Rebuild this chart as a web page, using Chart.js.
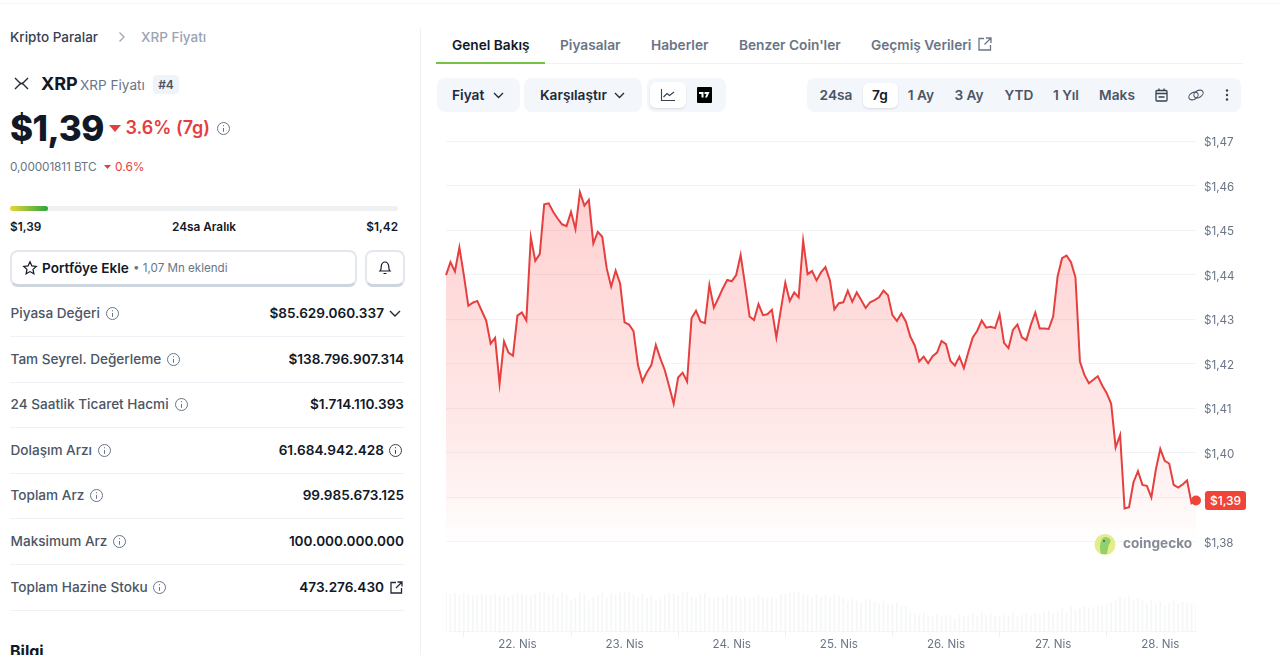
<!DOCTYPE html>
<html lang="tr">
<head>
<meta charset="utf-8">
<title>XRP Fiyatı</title>
<script src="https://cdn.jsdelivr.net/npm/chart.js@4"></script>
<style>
  html, body { margin: 0; padding: 0; width: 1280px; height: 655px; overflow: hidden; background: #fff; font-family: Inter, "Noto Sans", sans-serif; color: #111827; }
  .t { position: absolute; transform: translateY(-50%); white-space: nowrap; line-height: 1.2; }
  .r { transform: translate(-100%, -50%); }
  .c { transform: translate(-50%, -50%); }
  .box { position: absolute; box-sizing: border-box; }
  .lbl { font-size: 13.6px; font-weight: 500; color: #4b5565; left: 10.5px; }
  .val { font-size: 13.6px; font-weight: 600; color: #111827; }
  .tab { font-size: 13.7px; font-weight: 600; color: #697586; top: 45px; }
  .btn { font-size: 13.7px; font-weight: 600; color: #202939; top: 95px; }
  .rng { font-size: 13.7px; font-weight: 600; color: #4b5565; top: 95px; }
  .sep { position: absolute; left: 10px; width: 394px; height: 1px; background: #eef2f6; }
  svg { position: absolute; overflow: visible; fill: none; }
  .info { width: 13px; height: 13px; stroke: #697586; stroke-width: 1; }
  #chart-wrap { position: absolute; left: 430px; top: 130px; width: 850px; height: 525px; }
  #last-badge { position: absolute; left: 1205px; width: 41px; height: 19px; background: #f04438; color: #fff; border-radius: 3px; font-size: 12px; font-weight: 500; text-align: center; line-height: 19px; }
</style>
</head>
<body>
<svg width="0" height="0"><symbol id="i-info" viewBox="0 0 13 13"><circle cx="6.5" cy="6.5" r="6"/><path d="M6.5 6 V9.8 M6.5 3.2 V4.3"/></symbol></svg>

<!-- sol panel -->
<div class="box" style="left:0;top:3px;width:1280px;height:1px;background:#f2f4f7"></div>
<div class="box" style="left:420px;top:28px;width:1px;height:627px;background:#eef2f6"></div>

<span class="t" style="left:10px;top:37px;font-size:13.5px;font-weight:500;color:#364152">Kripto Paralar</span>
<svg style="left:118px;top:32px" width="8" height="10" stroke="#9aa4b2" stroke-width="1.2"><path d="M1.5 0.5 L6 5 L1.5 9.5"/></svg>
<span class="t" style="left:141px;top:37px;font-size:13.5px;font-weight:500;color:#9aa4b2">XRP Fiyatı</span>

<svg style="left:14px;top:77px" width="15" height="13" stroke="#23292f" stroke-width="1.4"><path d="M1 1 L5.5 5.5 C6.5 6.5 8.5 6.5 9.5 5.5 L14 1 M1 12 L5.5 7.5 C6.5 6.5 8.5 6.5 9.5 7.5 L14 12"/></svg>
<span class="t" style="left:41px;top:84px;font-size:18px;font-weight:700">XRP</span>
<span class="t" style="left:80px;top:85px;font-size:13.6px;color:#697586">XRP Fiyatı</span>
<div class="box" style="left:153px;top:75px;width:26px;height:19px;background:#eff4fa;border-radius:4px"></div>
<span class="t c" style="left:166px;top:85px;font-size:12px;font-weight:600;color:#4b5565">#4</span>

<span class="t" style="left:10px;top:128px;font-size:35px;font-weight:800;color:#121926;letter-spacing:-0.5px">$1,39</span>
<svg style="left:109px;top:125px" width="12" height="7"><path d="M0 0 H12 L6 7 Z" fill="#e53e3e"/></svg>
<span class="t" style="left:125.5px;top:128px;font-size:18px;font-weight:600;color:#e53e3e">3.6% (7g)</span>
<svg class="info" style="left:216.5px;top:121.5px"><use href="#i-info"/></svg>

<span class="t" style="left:10px;top:167px;font-size:11.8px;color:#697586;letter-spacing:-0.1px">0,00001811 BTC</span>
<svg style="left:104px;top:165px" width="7" height="4"><path d="M0 0 H7 L3.5 4 Z" fill="#e53e3e"/></svg>
<span class="t" style="left:115px;top:167px;font-size:12px;color:#e53e3e">0.6%</span>

<div class="box" style="left:10px;top:206px;width:388px;height:5px;background:#eef0f2;border-radius:3px"></div>
<div class="box" style="left:10px;top:206px;width:38px;height:5px;background:linear-gradient(90deg,#e8d63a,#2aa63c);border-radius:3px"></div>
<span class="t" style="left:10px;top:227px;font-size:11.8px;font-weight:600">$1,39</span>
<span class="t c" style="left:204px;top:227px;font-size:11.8px;font-weight:600">24sa Aralık</span>
<span class="t r" style="left:398px;top:227px;font-size:11.8px;font-weight:600">$1,42</span>

<div class="box" style="left:10px;top:250px;width:347px;height:37px;border:2px solid #e3e8ef;border-bottom:3px solid #cdd5df;border-radius:8px"></div>
<svg style="left:23px;top:261px" width="14" height="14" stroke="#121926" stroke-width="1.2"><path d="M7 0.8 L8.9 4.9 L13.3 5.4 L10 8.4 L10.9 12.8 L7 10.6 L3.1 12.8 L4 8.4 L0.7 5.4 L5.1 4.9 Z"/></svg>
<span class="t" style="left:42px;top:268px;font-size:13.6px;font-weight:600">Portföye Ekle</span>
<span class="t" style="left:133px;top:269px;font-size:11.6px;color:#697586">• 1,07 Mn eklendi</span>
<div class="box" style="left:365px;top:250px;width:40px;height:37px;border:2px solid #e3e8ef;border-bottom:3px solid #cdd5df;border-radius:8px"></div>
<svg style="left:379px;top:261px" width="12" height="14" stroke="#121926" stroke-width="1.2"><path d="M1 10 C2.5 8.5 2 6.5 2.3 5 C2.7 2.5 4.5 1 6 1 C7.5 1 9.3 2.5 9.7 5 C10 6.5 9.5 8.5 11 10 Z M4.5 12.5 H7.5"/></svg>

<span class="t lbl" style="top:313px">Piyasa Değeri</span><span class="t r val" style="left:384px;top:313px">$85.629.060.337</span>
<span class="t lbl" style="top:359px">Tam Seyrel. Değerleme</span><span class="t r val" style="left:404px;top:359px">$138.796.907.314</span>
<span class="t lbl" style="top:404px">24 Saatlik Ticaret Hacmi</span><span class="t r val" style="left:404px;top:404px">$1.714.110.393</span>
<span class="t lbl" style="top:450px">Dolaşım Arzı</span><span class="t r val" style="left:384px;top:450px">61.684.942.428</span>
<span class="t lbl" style="top:495px">Toplam Arz</span><span class="t r val" style="left:404px;top:495px">99.985.673.125</span>
<span class="t lbl" style="top:541px">Maksimum Arz</span><span class="t r val" style="left:404px;top:541px">100.000.000.000</span>
<span class="t lbl" style="top:587px">Toplam Hazine Stoku</span><span class="t r val" style="left:384px;top:587px">473.276.430</span>
<svg class="info" style="left:105.5px;top:306.5px"><use href="#i-info"/></svg>
<svg class="info" style="left:166.5px;top:352.5px"><use href="#i-info"/></svg>
<svg class="info" style="left:174.5px;top:397.5px"><use href="#i-info"/></svg>
<svg class="info" style="left:97.5px;top:443.5px"><use href="#i-info"/></svg>
<svg class="info" style="left:388.5px;top:443.5px;stroke:#364152"><use href="#i-info"/></svg>
<svg class="info" style="left:89.5px;top:488.5px"><use href="#i-info"/></svg>
<svg class="info" style="left:112.5px;top:534.5px"><use href="#i-info"/></svg>
<svg class="info" style="left:152.5px;top:580.5px"><use href="#i-info"/></svg>
<div class="sep" style="top:336px"></div><div class="sep" style="top:382px"></div><div class="sep" style="top:427px"></div>
<div class="sep" style="top:473px"></div><div class="sep" style="top:518px"></div><div class="sep" style="top:564px"></div><div class="sep" style="top:610px"></div>
<svg style="left:389px;top:310px" width="12" height="7" stroke="#202939" stroke-width="1.4"><path d="M1 1 L6 6 L11 1"/></svg>
<svg style="left:390px;top:581px" width="13" height="13" stroke="#202939" stroke-width="1.3"><path d="M6 1.5 H1 V12 H11.5 V7 M7.5 1 H12 V5.5 M12 1 L6 7"/></svg>
<span class="t" style="left:10px;top:652px;font-size:16px;font-weight:700">Bilgi</span>

<!-- sekmeler -->
<span class="t tab" style="left:452px;color:#121926">Genel Bakış</span>
<span class="t tab" style="left:560px">Piyasalar</span>
<span class="t tab" style="left:651px">Haberler</span>
<span class="t tab" style="left:739px">Benzer Coin'ler</span>
<span class="t tab" style="left:871px">Geçmiş Verileri</span>
<svg style="left:978px;top:37px" width="14" height="14" stroke="#697586" stroke-width="1.3"><path d="M6 1.5 H1 V13 H12.5 V8 M8 1 H13 V6 M13 1 L6.5 7.5"/></svg>
<div class="box" style="left:436px;top:63px;width:807px;height:1px;background:#eef2f6"></div>
<div class="box" style="left:436px;top:62px;width:109px;height:2px;background:#76c043"></div>

<!-- butonlar -->
<div class="box" style="left:437px;top:78px;width:83px;height:34px;background:#f3f6fa;border-radius:8px"></div>
<span class="t btn" style="left:452px">Fiyat</span>
<svg style="left:493px;top:92px" width="11" height="7" stroke="#202939" stroke-width="1.3"><path d="M1 1 L5.5 5.5 L10 1"/></svg>
<div class="box" style="left:524px;top:78px;width:118px;height:34px;background:#f3f6fa;border-radius:8px"></div>
<span class="t btn" style="left:540px">Karşılaştır</span>
<svg style="left:614px;top:92px" width="11" height="7" stroke="#202939" stroke-width="1.3"><path d="M1 1 L5.5 5.5 L10 1"/></svg>
<div class="box" style="left:647px;top:78px;width:79px;height:34px;background:#f3f6fa;border-radius:8px"></div>
<div class="box" style="left:650px;top:82px;width:36px;height:26px;background:#fff;border-radius:6px;box-shadow:0 1px 2px rgba(16,24,40,.12)"></div>
<svg style="left:661px;top:89px" width="14" height="12" stroke="#364152" stroke-width="1.1"><path d="M0.5 0 V11.5 H14 M2.5 8 L6 4.5 L8.5 6.5 L13 3"/></svg>
<div class="box" style="left:697px;top:87px;width:15px;height:16px;background:#000;border-radius:1px"></div>
<svg style="left:699px;top:92px" width="11" height="6"><path d="M0 0 H4.5 V5.5 H2.5 V2 H0 Z M5.5 0 H10.5 L8 5.5 H6 L7.5 2 H5.5 Z" fill="#fff"/></svg>

<div class="box" style="left:807px;top:78px;width:434px;height:34px;background:#f3f6fa;border-radius:8px"></div>
<div class="box" style="left:863px;top:83px;width:35px;height:25px;background:#fff;border-radius:6px;box-shadow:0 1px 2px rgba(16,24,40,.12)"></div>
<span class="t c rng" style="left:836px">24sa</span>
<span class="t c rng" style="left:880px;color:#121926">7g</span>
<span class="t c rng" style="left:921px">1 Ay</span>
<span class="t c rng" style="left:969px">3 Ay</span>
<span class="t c rng" style="left:1019px">YTD</span>
<span class="t c rng" style="left:1066px">1 Yıl</span>
<span class="t c rng" style="left:1117px">Maks</span>
<svg style="left:1155px;top:88px" width="13" height="14" stroke="#364152" stroke-width="1.3"><rect x="1" y="2.5" width="11" height="10.5" rx="1"/><path d="M1 5.5 H12 M4 0.5 V2.5 M9 0.5 V2.5 M3.5 9 H9.5"/></svg>
<svg style="left:1188px;top:89px" width="16" height="12" stroke="#4b5565" stroke-width="1.1"><ellipse cx="5.5" cy="7" rx="5" ry="3.4" transform="rotate(-30 5.5 7)"/><ellipse cx="10.5" cy="5" rx="5" ry="3.4" transform="rotate(-30 10.5 5)"/></svg>
<svg style="left:1225px;top:89px" width="4" height="12"><circle cx="2" cy="1.5" r="1.2" fill="#364152"/><circle cx="2" cy="6" r="1.2" fill="#364152"/><circle cx="2" cy="10.5" r="1.2" fill="#364152"/></svg>

<!-- grafik -->
<div id="chart-wrap"><canvas id="chart-fiyat"></canvas></div>
<svg style="left:1094px;top:533px" width="22" height="23"><circle cx="11" cy="11.5" r="10.5" fill="#e6eb8c"/><path d="M7 21 C5 14 6 5 11 4 C15 4 18 7 16 10 C14 12 14 16 13 21 Z" fill="#8fd16b"/><circle cx="10" cy="8" r="1" fill="#4b5565"/></svg>
<span class="t" style="left:1123px;top:543px;font-size:13.6px;font-weight:700;color:#848b96">coingecko</span>
<div id="last-badge">$1,39</div>

<script>
// Saatlik fiyat (USD)
const prices = [
  1.4399, 1.4428, 1.4407, 1.4461, 1.4399, 1.4330, 1.4337, 1.4341, 1.4319, 1.4297, 1.4245, 1.4258, 1.4155,
  1.4250, 1.4225, 1.4218, 1.4308, 1.4315, 1.4297, 1.4484, 1.4431, 1.4446, 1.4558, 1.4560, 1.4541, 1.4526,
  1.4513, 1.4509, 1.4541, 1.4502, 1.4585, 1.4555, 1.4568, 1.4470, 1.4496, 1.4485, 1.4414, 1.4373, 1.4409,
  1.4380, 1.4293, 1.4288, 1.4273, 1.4197, 1.4160, 1.4181, 1.4197, 1.4242, 1.4212, 1.4186, 1.4149, 1.4110,
  1.4169, 1.4180, 1.4160, 1.4302, 1.4319, 1.4295, 1.4291, 1.4377, 1.4326, 1.4347, 1.4369, 1.4388, 1.4385,
  1.4399, 1.4444, 1.4377, 1.4306, 1.4298, 1.4334, 1.4309, 1.4311, 1.4321, 1.4259, 1.4321, 1.4382, 1.4341,
  1.4360, 1.4349, 1.4476, 1.4401, 1.4408, 1.4387, 1.4405, 1.4417, 1.4387, 1.4322, 1.4336, 1.4338, 1.4364,
  1.4339, 1.4360, 1.4343, 1.4325, 1.4338, 1.4343, 1.4349, 1.4364, 1.4354, 1.4309, 1.4296, 1.4313, 1.4295,
  1.4261, 1.4241, 1.4205, 1.4216, 1.4201, 1.4217, 1.4225, 1.4251, 1.4244, 1.4206, 1.4196, 1.4216, 1.4190,
  1.4226, 1.4259, 1.4274, 1.4297, 1.4281, 1.4283, 1.4280, 1.4311, 1.4247, 1.4235, 1.4276, 1.4288, 1.4259,
  1.4253, 1.4287, 1.4315, 1.4279, 1.4279, 1.4278, 1.4306, 1.4396, 1.4437, 1.4443, 1.4428, 1.4394, 1.4205,
  1.4175, 1.4156, 1.4164, 1.4172, 1.4151, 1.4134, 1.4110, 1.4012, 1.4040, 1.3875, 1.3878, 1.3934, 1.3959,
  1.3928, 1.3926, 1.3900, 1.3962, 1.4009, 1.3982, 1.3976, 1.3928, 1.3922, 1.3929, 1.3938, 1.3887, 1.3893
];

// Hacim, eksen yazısı yok, çubuk boylarından göreli okundu
const volumes = [
  38, 37, 38, 36, 38, 37, 35, 36, 37, 35, 36, 37, 35, 36, 34, 36, 38, 37, 36, 35, 37, 38, 39, 36,
  37, 34, 38, 36, 31, 33, 38, 37, 30, 34, 36, 38, 33, 37, 36, 38, 39, 38, 36, 34, 37, 33, 35, 30,
  32, 36, 38, 37, 35, 38, 39, 34, 33, 36, 38, 33, 32, 34, 33, 36, 34, 35, 33, 34, 32, 33, 35, 34,
  33, 34, 32, 36, 37, 38, 39, 38, 37, 35, 33, 36, 34, 35, 33, 36, 35, 33,
  29, 32, 30, 28, 32, 31, 29, 27, 30, 27, 26, 28, 24, 25,
  19, 17, 16, 18, 16, 15, 17, 14, 16, 15, 13, 16, 14, 15, 17, 15, 18, 16, 17, 15, 14, 16, 15, 18, 14, 16, 17, 15, 18, 17,
  19, 20, 18, 19, 22, 20, 24, 21, 23, 25, 22, 24, 26, 25, 27, 28,
  30, 34, 32, 35, 31, 33,
  30, 28, 31, 27, 29, 26, 28, 30, 27, 29, 28, 27, 26
];

const priceTicks = [1.47, 1.46, 1.45, 1.44, 1.43, 1.42, 1.41, 1.40, 1.39, 1.38];
const dayLabels = ["22. Nis", "23. Nis", "24. Nis", "25. Nis", "26. Nis", "27. Nis", "28. Nis"];
const dayIndexes = [16, 40, 64, 88, 112, 136, 160];

const PRICE_MAX = 1.47;
const PRICE_MIN = 1.36;
const VOLUME_AXIS_MAX = 490;
const FILL_END_PRICE = 1.38;

const hours = prices.map((_, i) => i);

function formatPrice(v) {
  return "$" + v.toFixed(2).replace(".", ",");
}

function fillGradient(ctx) {
  const chart = ctx.chart;
  if (!chart.chartArea) return "rgba(255,70,70,0.15)";
  const y = chart.scales.y;
  const g = chart.ctx.createLinearGradient(0, y.getPixelForValue(PRICE_MAX), 0, y.getPixelForValue(FILL_END_PRICE));
  g.addColorStop(0, "rgba(255,70,70,0.28)");
  g.addColorStop(0.7, "rgba(255,70,70,0.125)");
  g.addColorStop(0.9, "rgba(255,70,70,0.05)");
  g.addColorStop(1, "rgba(255,70,70,0)");
  return g;
}

// Son fiyat etiketini son noktanın hizasına koyar
const lastBadge = {
  id: "lastBadge",
  afterRender(chart) {
    const el = document.getElementById("last-badge");
    const py = chart.scales.y.getPixelForValue(prices[prices.length - 1]);
    el.style.top = (chart.canvas.getBoundingClientRect().top + py - 9.5) + "px";
  }
};

new Chart(document.getElementById("chart-fiyat"), {
  data: {
    labels: hours,
    datasets: [
      {
        type: "line",
        data: prices,
        yAxisID: "y",
        borderColor: "#e5403f",
        borderWidth: 2,
        tension: 0,
        fill: "start",
        backgroundColor: fillGradient,
        pointRadius: ctx => (ctx.dataIndex === prices.length - 1 ? 5 : 0),
        pointBackgroundColor: "#f04438",
        pointBorderWidth: 0,
        order: 1
      },
      {
        type: "bar",
        data: volumes,
        yAxisID: "yVol",
        backgroundColor: "#f5f6f7",
        barThickness: 1,
        order: 2
      }
    ]
  },
  plugins: [lastBadge],
  options: {
    responsive: true,
    maintainAspectRatio: false,
    animation: false,
    layout: { padding: { left: 16, top: 11, right: 0, bottom: 0 } },
    plugins: { legend: { display: false }, tooltip: { enabled: false } },
    scales: {
      x: {
        type: "category",
        offset: false,
        border: { display: true, color: "#f4f5f6" },
        grid: { drawOnChartArea: false, tickColor: "#eff0f2", tickLength: 6 },
        ticks: {
          autoSkip: false,
          maxRotation: 0,
          padding: 1,
          color: "#697586",
          font: { family: "Inter", size: 11.6 },
          callback: value => dayLabels[dayIndexes.indexOf(value)]
        },
        afterBuildTicks: axis => { axis.ticks = dayIndexes.map(value => ({ value })); },
        afterFit: axis => { axis.height = 24; axis.paddingLeft = 0; axis.paddingRight = 0; }
      },
      y: {
        position: "right",
        min: PRICE_MIN,
        max: PRICE_MAX,
        border: { display: false },
        grid: {
          drawTicks: false,
          color: ctx => (priceTicks.includes(ctx.tick.value) ? "#f2f3f5" : "transparent")
        },
        ticks: {
          padding: 8,
          labelOffset: 1.5,
          color: "#697586",
          font: { family: "Inter", size: 11.6 },
          callback: value => formatPrice(value)
        },
        afterBuildTicks: axis => { axis.ticks = priceTicks.map(value => ({ value })); },
        afterFit: axis => { axis.width = 84; axis.paddingTop = 0; axis.paddingBottom = 0; }
      },
      yVol: {
        display: false,
        min: 0,
        max: VOLUME_AXIS_MAX
      }
    }
  }
});
</script>
</body>
</html>
